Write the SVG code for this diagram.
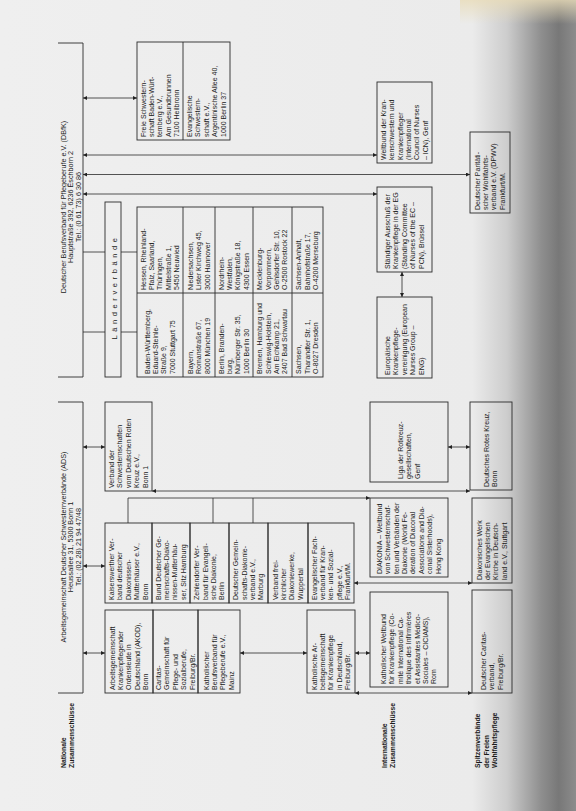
<svg xmlns="http://www.w3.org/2000/svg" width="576" height="811" viewBox="0 0 576 811">
<defs>
<linearGradient id="bg" x1="0" y1="0" x2="1" y2="0">
<stop offset="0" stop-color="#efefef"/>
<stop offset="0.82" stop-color="#ebebeb"/>
<stop offset="0.88" stop-color="#cdcdcd"/>
<stop offset="0.94" stop-color="#8e8e8e"/>
<stop offset="0.97" stop-color="#787878"/>
<stop offset="1" stop-color="#8c8c8c"/>
</linearGradient>
<linearGradient id="tint" x1="0" y1="0" x2="0" y2="1">
<stop offset="0" stop-color="#e9dcb8" stop-opacity="0.8"/>
<stop offset="1" stop-color="#e9dcb8" stop-opacity="0"/>
</linearGradient>
<marker id="a" viewBox="0 0 10 10" refX="10" refY="5" markerWidth="4.5" markerHeight="4" markerUnits="userSpaceOnUse" orient="auto-start-reverse">
<path d="M0,0 L10,5 L0,10 z" fill="#222"/>
</marker>
</defs>
<style>
.b{fill:none;stroke:#2a2a2a;stroke-width:0.9}
.c{fill:none;stroke:#2a2a2a;stroke-width:0.8}
.d{marker-start:url(#a);marker-end:url(#a)}
.e{marker-end:url(#a)}
.t{font-family:"Liberation Sans",Arial,sans-serif;font-size:7px;fill:#1a1a1a}
.h{font-family:"Liberation Sans",Arial,sans-serif;font-size:7.2px;fill:#1a1a1a;text-anchor:middle}
.l{font-family:"Liberation Sans",Arial,sans-serif;font-size:6.8px;font-weight:bold;fill:#1a1a1a}
.s{font-family:"Liberation Sans",Arial,sans-serif;font-size:7.5px;fill:#1a1a1a;text-anchor:middle;letter-spacing:3.6px}
</style>
<rect x="0" y="0" width="576" height="811" fill="url(#bg)"/>
<rect x="460" y="0" width="116" height="24" fill="url(#tint)"/>

<g id="connectors">
<line class="c d" x1="83" y1="98" x2="137" y2="98"/>
<line class="c d" x1="83" y1="155" x2="377" y2="155"/>
<line class="c d" x1="83" y1="174.5" x2="470" y2="174.5"/>
<line class="c d" x1="83" y1="194" x2="377" y2="194"/>
<path class="c" d="M83,252 H105 M121,252 H137 M83,332 H105 M121,332 H137"/>
<line class="c d" x1="83" y1="447" x2="105" y2="447"/>
<line class="c d" x1="83" y1="566" x2="105" y2="566"/>
<line class="c d" x1="83" y1="653" x2="105" y2="653"/>
<line class="c d" x1="152" y1="491" x2="470" y2="491"/>
<line class="c d" x1="448" y1="447" x2="470" y2="447"/>
<path class="c e" d="M128,523 V498 H370"/>
<path class="c" d="M213,498 V523 M253,498 V523"/>
<line class="c d" x1="354" y1="583" x2="472" y2="583"/>
<line class="c d" x1="240" y1="653" x2="307" y2="653"/>
<line class="c d" x1="355" y1="653" x2="370" y2="653"/>
<line class="c d" x1="355" y1="693" x2="472" y2="693"/>
<line class="c d" x1="402" y1="272" x2="402" y2="297"/>
</g>

<g id="n-dbfk">
<path class="b" d="M58,43 H83 V377 H58"/>
<text class="h" transform="translate(65.5,207) rotate(-90)"><tspan x="0" y="0">Deutscher Berufsverband für Pflegeberufe e.V. (DBfK)</tspan><tspan x="0" dy="7.5">Hauptstraße 392, 6236 Eschborn 2</tspan><tspan x="0" dy="7.5">Tel.: (0 61 73) 6 30 86</tspan></text>
</g>

<g id="n-ads">
<path class="b" d="M58,402 H83 V693 H58"/>
<text class="h" transform="translate(65.5,547) rotate(-90)"><tspan x="0" y="0">Arbeitsgemeinschaft Deutscher Schwesternverbände (ADS)</tspan><tspan x="0" dy="7.5">Heussallee 31, 5300 Bonn 1</tspan><tspan x="0" dy="7.5">Tel.: (02 28) 21 94 47/48</tspan></text>
</g>

<g id="n-freie">
<rect class="b" x="137" y="42" width="93" height="98"/>
<line class="b" x1="183" y1="42" x2="183" y2="140"/>
<text class="t" transform="translate(145.5,137) rotate(-90)"><tspan x="0" y="0">Freie Schwestern-</tspan><tspan x="0" dy="8.4">schaft Baden-Würt-</tspan><tspan x="0" dy="8.4">temberg e.V.,</tspan><tspan x="0" dy="8.4">Am Gesundbrunnen</tspan><tspan x="0" dy="8.4">7100 Heilbronn</tspan></text>
<text class="t" transform="translate(192,137) rotate(-90)"><tspan x="0" y="0">Evangelische</tspan><tspan x="0" dy="8.4">Schwestern-</tspan><tspan x="0" dy="8.4">schaft e.V.,</tspan><tspan x="0" dy="8.4">Argentinische Allee 40,</tspan><tspan x="0" dy="8.4">1000 Berlin 37</tspan></text>
</g>

<g id="n-laenderlabel">
<rect class="b" x="105" y="202" width="16" height="175"/>
<text class="s" transform="translate(116.5,287) rotate(-90)">Länderverbände</text>
</g>

<g id="n-laender">
<rect class="b" x="137" y="207" width="186" height="170"/>
<path class="b" d="M183,207 V377 M215,207 V377 M253,207 V377 M292,207 V377 M137,293 H323"/>
<text class="t" transform="translate(145.5,290) rotate(-90)"><tspan x="0" y="0">Hessen, Rheinland-</tspan><tspan x="0" dy="8.4">Pfalz, Saarland,</tspan><tspan x="0" dy="8.4">Thüringen,</tspan><tspan x="0" dy="8.4">Mittelstraße 1,</tspan><tspan x="0" dy="8.4">5450 Neuwied</tspan></text>
<text class="t" transform="translate(149.7,374) rotate(-90)"><tspan x="0" y="0">Baden-Württemberg,</tspan><tspan x="0" dy="8.4">Eduard-Steinle-</tspan><tspan x="0" dy="8.4">Straße 9,</tspan><tspan x="0" dy="8.4">7000 Stuttgart 75</tspan></text>
<text class="t" transform="translate(192.9,290) rotate(-90)"><tspan x="0" y="0">Niedersachsen,</tspan><tspan x="0" dy="8.4">Lister Kirchweg 45,</tspan><tspan x="0" dy="8.4">3000 Hannover</tspan></text>
<text class="t" transform="translate(192.9,374) rotate(-90)"><tspan x="0" y="0">Bayern,</tspan><tspan x="0" dy="8.4">Romanstraße 67,</tspan><tspan x="0" dy="8.4">8000 München 19</tspan></text>
<text class="t" transform="translate(223.7,290) rotate(-90)"><tspan x="0" y="0">Nordrhein-</tspan><tspan x="0" dy="8.4">Westfalen,</tspan><tspan x="0" dy="8.4">Königstraße 18,</tspan><tspan x="0" dy="8.4">4300 Essen</tspan></text>
<text class="t" transform="translate(223.7,374) rotate(-90)"><tspan x="0" y="0">Berlin, Branden-</tspan><tspan x="0" dy="8.4">burg,</tspan><tspan x="0" dy="8.4">Nürnberger Str. 35,</tspan><tspan x="0" dy="8.4">1000 Berlin 30</tspan></text>
<text class="t" transform="translate(262.2,290) rotate(-90)"><tspan x="0" y="0">Mecklenburg-</tspan><tspan x="0" dy="8.4">Vorpommern,</tspan><tspan x="0" dy="8.4">Gehlsdorfer Str. 10,</tspan><tspan x="0" dy="8.4">O-2500 Rostock 22</tspan></text>
<text class="t" transform="translate(262.2,374) rotate(-90)"><tspan x="0" y="0">Bremen, Hamburg und</tspan><tspan x="0" dy="8.4">Schleswig-Holstein,</tspan><tspan x="0" dy="8.4">Am Eichkamp 21,</tspan><tspan x="0" dy="8.4">2407 Bad Schwartau</tspan></text>
<text class="t" transform="translate(301.2,290) rotate(-90)"><tspan x="0" y="0">Sachsen-Anhalt,</tspan><tspan x="0" dy="8.4">Bahnhofstraße 17,</tspan><tspan x="0" dy="8.4">O-4200 Merseburg</tspan></text>
<text class="t" transform="translate(301.2,374) rotate(-90)"><tspan x="0" y="0">Sachsen,</tspan><tspan x="0" dy="8.4">Tharandter Str. 1,</tspan><tspan x="0" dy="8.4">O-8027 Dresden</tspan></text>
</g>

<g id="n-drkverband">
<rect class="b" x="105" y="402" width="47" height="89"/>
<text class="t" transform="translate(114,488) rotate(-90)"><tspan x="0" y="0">Verband der</tspan><tspan x="0" dy="8.4">Schwesternschaften</tspan><tspan x="0" dy="8.4">vom Deutschen Roten</tspan><tspan x="0" dy="8.4">Kreuz e.V.,</tspan><tspan x="0" dy="8.4">Bonn 1</tspan></text>
</g>

<g id="n-kaiserswerth">
<rect class="b" x="105" y="523" width="47" height="80"/>
<text class="t" transform="translate(114,600) rotate(-90)"><tspan x="0" y="0">Kaiserswerther Ver-</tspan><tspan x="0" dy="8.4">band deutscher</tspan><tspan x="0" dy="8.4">Diakonissen-</tspan><tspan x="0" dy="8.4">Mutterhäuser e.V.,</tspan><tspan x="0" dy="8.4">Bonn</tspan></text>
</g>
<g id="n-bund">
<rect class="b" x="152" y="523" width="38" height="80"/>
<text class="t" transform="translate(160.7,600) rotate(-90)"><tspan x="0" y="0">Bund Deutscher Ge-</tspan><tspan x="0" dy="8.4">meinschafts-Diako-</tspan><tspan x="0" dy="8.4">nissen-Mutterhäu-</tspan><tspan x="0" dy="8.4">ser, Sitz Hamburg</tspan></text>
</g>
<g id="n-zehlendorf">
<rect class="b" x="190" y="523" width="39" height="80"/>
<text class="t" transform="translate(199.2,600) rotate(-90)"><tspan x="0" y="0">Zehlendorfer Ver-</tspan><tspan x="0" dy="8.4">band für Evangeli-</tspan><tspan x="0" dy="8.4">sche Diakonie,</tspan><tspan x="0" dy="8.4">Berlin</tspan></text>
</g>
<g id="n-gemeinschaft">
<rect class="b" x="229" y="523" width="39" height="80"/>
<text class="t" transform="translate(238.2,600) rotate(-90)"><tspan x="0" y="0">Deutscher Gemein-</tspan><tspan x="0" dy="8.4">schafts-Diakonie-</tspan><tspan x="0" dy="8.4">verband e.V.,</tspan><tspan x="0" dy="8.4">Marburg</tspan></text>
</g>
<g id="n-freikirchlich">
<rect class="b" x="268" y="523" width="40" height="80"/>
<text class="t" transform="translate(277.7,600) rotate(-90)"><tspan x="0" y="0">Verband frei-</tspan><tspan x="0" dy="8.4">kirchlicher</tspan><tspan x="0" dy="8.4">Diakoniewerke,</tspan><tspan x="0" dy="8.4">Wuppertal</tspan></text>
</g>
<g id="n-evfach">
<rect class="b" x="308" y="523" width="46" height="80"/>
<text class="t" transform="translate(316.5,600) rotate(-90)"><tspan x="0" y="0">Evangelischer Fach-</tspan><tspan x="0" dy="8.4">verband für Kran-</tspan><tspan x="0" dy="8.4">ken- und Sozial-</tspan><tspan x="0" dy="8.4">pflege e.V.,</tspan><tspan x="0" dy="8.4">Frankfurt/M.</tspan></text>
</g>

<g id="n-akod">
<rect class="b" x="105" y="610" width="48" height="83"/>
<text class="t" transform="translate(114.5,690) rotate(-90)"><tspan x="0" y="0">Arbeitsgemeinschaft</tspan><tspan x="0" dy="8.4">Krankenpflegender</tspan><tspan x="0" dy="8.4">Ordensleute in</tspan><tspan x="0" dy="8.4">Deutschland (AKOD),</tspan><tspan x="0" dy="8.4">Bonn</tspan></text>
</g>
<g id="n-caritasgem">
<rect class="b" x="153" y="610" width="45" height="83"/>
<text class="t" transform="translate(161,690) rotate(-90)"><tspan x="0" y="0">Caritas-</tspan><tspan x="0" dy="8.4">Gemeinschaft für</tspan><tspan x="0" dy="8.4">Pflege- und</tspan><tspan x="0" dy="8.4">Sozialberufe,</tspan><tspan x="0" dy="8.4">Freiburg/Br.</tspan></text>
</g>
<g id="n-kathbv">
<rect class="b" x="198" y="610" width="42" height="83"/>
<text class="t" transform="translate(208.7,690) rotate(-90)"><tspan x="0" y="0">Katholischer</tspan><tspan x="0" dy="8.4">Berufsverband für</tspan><tspan x="0" dy="8.4">Pflegeberufe e.V.,</tspan><tspan x="0" dy="8.4">Mainz</tspan></text>
</g>
<g id="n-kathag">
<rect class="b" x="307" y="610" width="48" height="83"/>
<text class="t" transform="translate(316.5,690) rotate(-90)"><tspan x="0" y="0">Katholische Ar-</tspan><tspan x="0" dy="8.4">beitsgemeinschaft</tspan><tspan x="0" dy="8.4">für Krankenpflege</tspan><tspan x="0" dy="8.4">in Deutschland,</tspan><tspan x="0" dy="8.4">Freiburg/Br.</tspan></text>
</g>

<g id="n-icn">
<rect class="b" x="377" y="82" width="55" height="81"/>
<text class="t" transform="translate(385.8,160) rotate(-90)"><tspan x="0" y="0">Weltbund der Kran-</tspan><tspan x="0" dy="8.4">kenschwestern und</tspan><tspan x="0" dy="8.4">Krankenpfleger</tspan><tspan x="0" dy="8.4">(International</tspan><tspan x="0" dy="8.4">Council of Nurses</tspan><tspan x="0" dy="8.4">– ICN), Genf</tspan></text>
</g>
<g id="n-pcn">
<rect class="b" x="377" y="187" width="55" height="85"/>
<text class="t" transform="translate(390,269) rotate(-90)"><tspan x="0" y="0">Ständiger Ausschuß der</tspan><tspan x="0" dy="8.4">Krankenpflege in der EG</tspan><tspan x="0" dy="8.4">(Standing Committee</tspan><tspan x="0" dy="8.4">of Nurses of the EC –</tspan><tspan x="0" dy="8.4">PCN), Brüssel</tspan></text>
</g>
<g id="n-eng">
<rect class="b" x="377" y="297" width="55" height="81"/>
<text class="t" transform="translate(390,375) rotate(-90)"><tspan x="0" y="0">Europäische</tspan><tspan x="0" dy="8.4">Krankenpflege-</tspan><tspan x="0" dy="8.4">vereinigung (European</tspan><tspan x="0" dy="8.4">Nurses Group –</tspan><tspan x="0" dy="8.4">ENG)</tspan></text>
</g>
<g id="n-dpwv">
<rect class="b" x="470" y="132" width="40" height="81"/>
<text class="t" transform="translate(479.7,210) rotate(-90)"><tspan x="0" y="0">Deutscher Paritäti-</tspan><tspan x="0" dy="8.4">scher Wohlfahrts-</tspan><tspan x="0" dy="8.4">verband e.V. (DPWV)</tspan><tspan x="0" dy="8.4">Frankfurt/M.</tspan></text>
</g>
<g id="n-liga">
<rect class="b" x="370" y="402" width="78" height="80"/>
<text class="t" transform="translate(402.9,479) rotate(-90)"><tspan x="0" y="0">Liga der Rotkreuz-</tspan><tspan x="0" dy="8.4">gesellschaften,</tspan><tspan x="0" dy="8.4">Genf</tspan></text>
</g>
<g id="n-drk">
<rect class="b" x="470" y="402" width="42" height="88"/>
<text class="t" transform="translate(489.1,487) rotate(-90)"><tspan x="0" y="0">Deutsches Rotes Kreuz,</tspan><tspan x="0" dy="8.4">Bonn</tspan></text>
</g>
<g id="n-diakonia">
<rect class="b" x="370" y="498" width="78" height="79"/>
<text class="t" transform="translate(381.9,574) rotate(-90)"><tspan x="0" y="0">DIAKONIA – Weltbund</tspan><tspan x="0" dy="8.4">von Schwesternschaf-</tspan><tspan x="0" dy="8.4">ten und Verbänden der</tspan><tspan x="0" dy="8.4">Diakonie (World Fe-</tspan><tspan x="0" dy="8.4">deration of Diaconal</tspan><tspan x="0" dy="8.4">Associations and Dia-</tspan><tspan x="0" dy="8.4">conal Sisterhoods),</tspan><tspan x="0" dy="8.4">Hong Kong</tspan></text>
</g>
<g id="n-dw">
<rect class="b" x="472" y="498" width="40" height="85"/>
<text class="t" transform="translate(481.7,580) rotate(-90)"><tspan x="0" y="0">Diakonisches Werk</tspan><tspan x="0" dy="8.4">der Evangelischen</tspan><tspan x="0" dy="8.4">Kirche in Deutsch-</tspan><tspan x="0" dy="8.4">land e.V., Stuttgart</tspan></text>
</g>
<g id="n-ciciams">
<rect class="b" x="370" y="592" width="78" height="95"/>
<text class="t" transform="translate(386.1,684) rotate(-90)"><tspan x="0" y="0">Katholischer Weltbund</tspan><tspan x="0" dy="8.4">für Krankenpflege (Co-</tspan><tspan x="0" dy="8.4">mité International Ca-</tspan><tspan x="0" dy="8.4">tholique des Infirmières</tspan><tspan x="0" dy="8.4">et Assistantes Médico-</tspan><tspan x="0" dy="8.4">Sociales – CICIAMS),</tspan><tspan x="0" dy="8.4">Rom</tspan></text>
</g>
<g id="n-caritas">
<rect class="b" x="472" y="590" width="40" height="103"/>
<text class="t" transform="translate(485.9,690) rotate(-90)"><tspan x="0" y="0">Deutscher Caritas-</tspan><tspan x="0" dy="8.4">verband,</tspan><tspan x="0" dy="8.4">Freiburg/Br.</tspan></text>
</g>

<g id="labels">
<text class="l" transform="translate(66,768) rotate(-90)"><tspan x="0" y="0">Nationale</tspan><tspan x="0" dy="7.6">Zusammenschlüsse</tspan></text>
<text class="l" transform="translate(387,768) rotate(-90)"><tspan x="0" y="0">Internationale</tspan><tspan x="0" dy="7.6">Zusammenschlüsse</tspan></text>
<text class="l" transform="translate(480,768) rotate(-90)"><tspan x="0" y="0">Spitzenverbände</tspan><tspan x="0" dy="8.6">der Freien</tspan><tspan x="0" dy="8.6">Wohlfahrtspflege</tspan></text>
</g>
</svg>
